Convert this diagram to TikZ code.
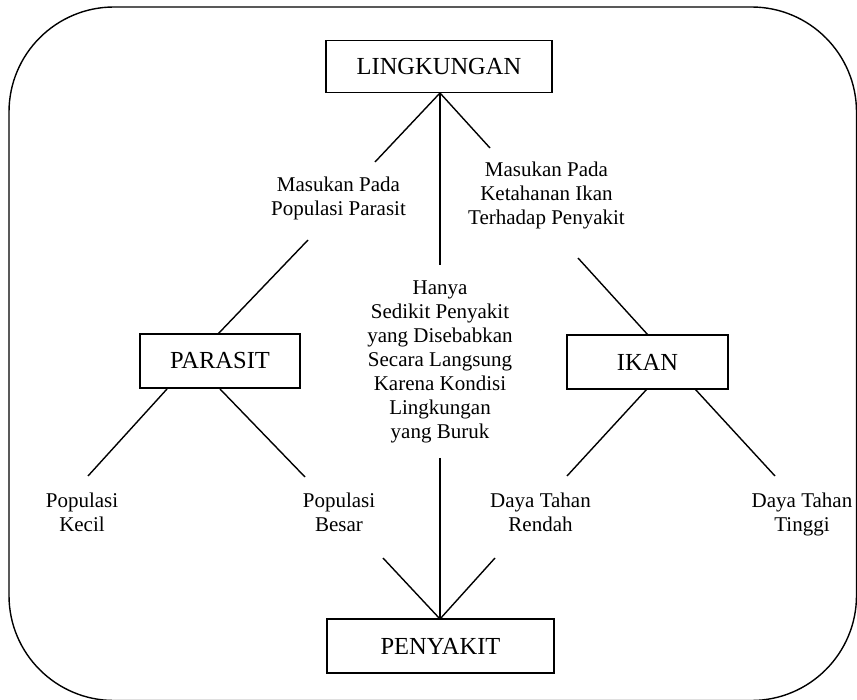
\documentclass[tikz,border=0pt]{standalone}
\usepackage{fontspec}
\setmainfont{Liberation Serif}
\begin{document}
\begin{tikzpicture}[x=1pt,y=-1pt,
  box/.style={draw,line width=1.5pt,inner sep=0pt,font=\fontsize{24.5}{28}\selectfont},
  lbl/.style={align=center,inner sep=0pt,font=\fontsize{21}{24}\selectfont},
  conn/.style={line width=1.4pt}]
\useasboundingbox (0,0) rectangle (857,700);
\draw[line width=1.4pt,rounded corners=105pt] (9,7) rectangle (856.5,700.5);
% boxes
\node[box,minimum width=226pt,minimum height=52pt] (ling) at (439,66.5) {LINGKUNGAN};
\node[box,minimum width=160pt,minimum height=54pt] (par) at (220,361) {PARASIT};
\node[box,minimum width=161pt,minimum height=54pt] (ikan) at (647.5,362) {IKAN};
\node[box,minimum width=227pt,minimum height=54pt] (pen) at (440.5,646) {PENYAKIT};
% labels
\node[lbl] (lpar) at (338.5,199.2) {\strut Masukan Pada\\\strut Populasi Parasit};
\node[lbl] (likan) at (546.5,196.2) {\strut Masukan Pada\\\strut Ketahanan Ikan\\\strut Terhadap Penyakit};
\node[lbl] (lmid) at (440,362.2) {\strut Hanya\\\strut Sedikit Penyakit\\\strut yang Disebabkan\\\strut Secara Langsung\\\strut Karena Kondisi\\\strut Lingkungan\\\strut yang Buruk};
\node[lbl] (kecil) at (82,514.2) {\strut Populasi\\\strut Kecil};
\node[lbl] (besar) at (339,514.2) {\strut Populasi\\\strut Besar};
\node[lbl] (rendah) at (540.5,514.2) {\strut Daya Tahan\\\strut Rendah};
\node[lbl] (tinggi) at (802,514.2) {\strut Daya Tahan\\\strut Tinggi};
% connector coordinates
\coordinate (lt) at (440,93);
\coordinate (a1) at (375,162);
\coordinate (a2) at (308,240);
\coordinate (pt) at (218,334);
\coordinate (b1) at (490,148);
\coordinate (b2) at (578,258);
\coordinate (it) at (648,335);
\coordinate (c1) at (440,265);
\coordinate (c2) at (440,458);
\coordinate (pn) at (440,619);
\coordinate (pl) at (167,389);
\coordinate (pr) at (220,389);
\coordinate (kc) at (88,476);
\coordinate (bs) at (305,477);
\coordinate (il) at (647,389);
\coordinate (ir) at (695,389);
\coordinate (rd) at (567,476);
\coordinate (tg) at (775,476);
\coordinate (bs2) at (383,558);
\coordinate (rd2) at (495,558);
% connectors
\draw[conn] (lt) -- (a1);
\draw[conn] (a2) -- (pt);
\draw[conn] (lt) -- (b1);
\draw[conn] (b2) -- (it);
\draw[conn] (lt) -- (c1);
\draw[conn] (c2) -- (pn);
\draw[conn] (pl) -- (kc);
\draw[conn] (pr) -- (bs);
\draw[conn] (il) -- (rd);
\draw[conn] (ir) -- (tg);
\draw[conn] (bs2) -- (pn);
\draw[conn] (rd2) -- (pn);
\end{tikzpicture}
\end{document}
